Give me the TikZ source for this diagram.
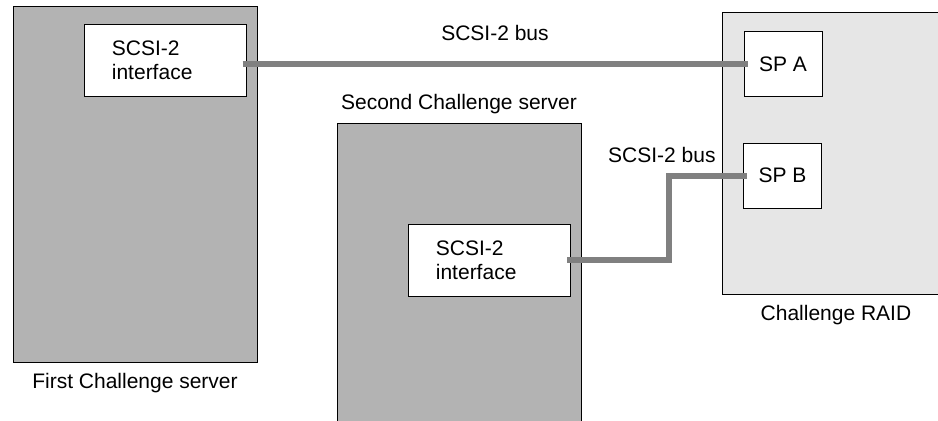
\documentclass[tikz,border=0pt]{standalone}
\usepackage{fontspec}
\setmainfont{Liberation Sans}
\usetikzlibrary{positioning}

\definecolor{srvgray}{HTML}{B3B3B3}
\definecolor{raidgray}{HTML}{E6E6E6}
\definecolor{busgray}{HTML}{808080}

\begin{document}
\begin{tikzpicture}[x=0.5pt, y=-0.5pt,
    every node/.style={font=\fontsize{10.5}{12}\selectfont, inner sep=0pt, text=black},
    box/.style={draw, rectangle, line width=0.5pt},
    server/.style={box, fill=srvgray, minimum width=122pt},
    card/.style={box, fill=white, minimum width=81pt, minimum height=36pt},
    sp/.style={box, fill=white, minimum width=39pt, minimum height=32.5pt},
    bus/.style={busgray, line width=3pt, shorten <=-2pt, shorten >=-2pt}]
    \clip (0, 0) rectangle (938, 420);

    \node[server, minimum height=178pt] (srv1) at (135, 184) {};
    \node[server, minimum height=153.5pt] (srv2) at (459, 276.5) {};
    \node[box, fill=raidgray, minimum width=114pt, minimum height=141pt] (raid) at (836, 153) {};

    \node[card] (if1) at (165, 60) {};
    \node[card] (if2) at (489, 260) {};
    \node[sp] (spa) at (783, 64) {SP A};
    \node[sp] (spb) at (782.5, 175.5) {SP B};

    \node[anchor=west, align=left] at ([xshift=14pt]if1.west) {SCSI-2\\interface};
    \node[anchor=west, align=left] at ([xshift=14pt]if2.west) {SCSI-2\\interface};

    \node[below=5pt of srv1] {First Challenge server};
    \node[above=4pt of srv2] {Second Challenge server};
    \node[below=5pt of raid] {Challenge RAID};

    \draw[bus] (spa.west -| if1.east) -- (spa.west)
        node[midway, above=10pt] {SCSI-2 bus};
    \draw[bus] (spb.west) -- (669, 175.5) |- (if2.east);
    \node[above left=6pt and 13.5pt of spb.west] {SCSI-2 bus};
\end{tikzpicture}
\end{document}
